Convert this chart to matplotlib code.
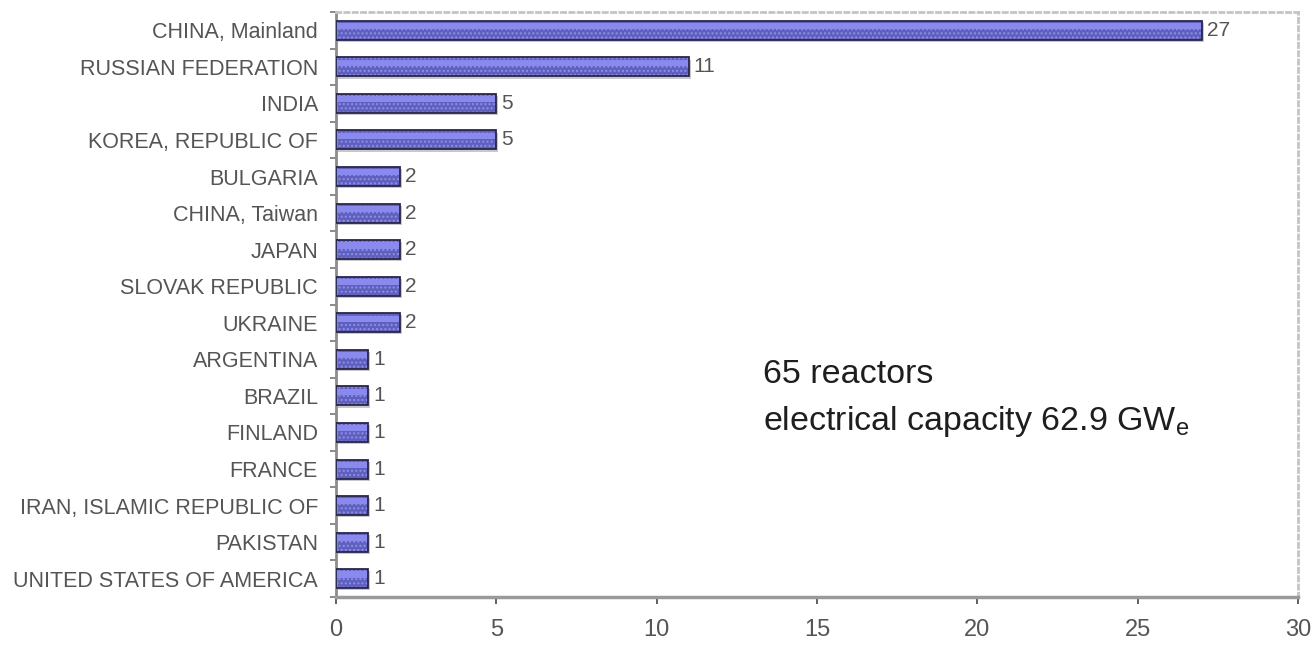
import numpy as np
import matplotlib
matplotlib.use("Agg")
import matplotlib.pyplot as plt
from matplotlib.ticker import FixedLocator

# Reactors under construction by country
countries = [
    "CHINA, Mainland", "RUSSIAN FEDERATION", "INDIA", "KOREA, REPUBLIC OF",
    "BULGARIA", "CHINA, Taiwan", "JAPAN", "SLOVAK REPUBLIC", "UKRAINE",
    "ARGENTINA", "BRAZIL", "FINLAND", "FRANCE", "IRAN, ISLAMIC REPUBLIC OF",
    "PAKISTAN", "UNITED STATES OF AMERICA",
]
reactors = [27, 11, 5, 5, 2, 2, 2, 2, 2, 1, 1, 1, 1, 1, 1, 1]
x_ticks = [0, 5, 10, 15, 20, 25, 30]
summary_count = "65 reactors"
summary_capacity = "electrical capacity 62.9 GW$_\\mathrm{e}$"

plt.rcParams["font.family"] = ["Liberation Sans", "DejaVu Sans"]
plt.rcParams["mathtext.fontset"] = "custom"
plt.rcParams["mathtext.rm"] = "Liberation Sans"
plt.rcParams["hatch.linewidth"] = 1.0

W, H = 1315, 645
fig = plt.figure(figsize=(W / 100, H / 100), dpi=100)
left, right, top, bottom = 336, 1298, 12, 597
ax = fig.add_axes([left / W, 1 - bottom / H, (right - left) / W, (bottom - top) / H])

n = len(countries)
y = np.arange(n)
h = 0.52

# shadow below each bar
ax.barh(y + 0.06, reactors, height=h, left=0.06, color="#c8c8c8", lw=0, zorder=1)
# main body of the bar
ax.barh(y, reactors, height=h, color="#5f5fbc", edgecolor="#8e8ef0",
        hatch="....", lw=0, zorder=2)
# lighter upper band
ax.barh(y - h * 0.22, reactors, height=h * 0.32, color="#8a8aee", lw=0, zorder=3)
# outline
ax.barh(y, reactors, height=h, fill=False, edgecolor="#26264a", lw=1.3, zorder=4)

for yi, v in zip(y, reactors):
    ax.text(v + 0.15, yi, str(v), va="center", ha="left", fontsize=15,
            color="#555555", zorder=5)

ax.set_xlim(0, 30)
ax.set_ylim(n - 0.5, -0.5)
ax.set_xticks(x_ticks)
ax.set_yticks(y)
ax.set_yticklabels(countries)
ax.yaxis.set_minor_locator(FixedLocator(np.arange(-0.5, n, 1.0)))

ax.tick_params(axis="y", which="major", length=0, pad=13, labelsize=15.5,
               labelcolor="#555555")
ax.tick_params(axis="y", which="minor", length=4, width=1.2, color="#777777",
               direction="out")
ax.tick_params(axis="x", which="major", length=5, width=1.2, color="#444444",
               direction="out", pad=11, labelsize=17, labelcolor="#555555")

for side in ("top", "right"):
    ax.spines[side].set_color("#c4c4c4")
    ax.spines[side].set_linewidth(2)
    ax.spines[side].set_linestyle((0, (1.5, 1.5)))
ax.spines["left"].set_color("#8c8c8c")
ax.spines["left"].set_linewidth(2)
ax.spines["bottom"].set_color("#9a9a9a")
ax.spines["bottom"].set_linewidth(2.5)
ax.spines["bottom"].set_linestyle((0, (2, 1)))

fig.text(763 / W, 1 - 383 / H, summary_count, fontsize=24.5, color="#1e1e1e",
         va="baseline", ha="left")
fig.text(763 / W, 1 - 430 / H, summary_capacity, fontsize=24.5, color="#1e1e1e",
         va="baseline", ha="left")

fig.savefig("out.png", dpi=100)
